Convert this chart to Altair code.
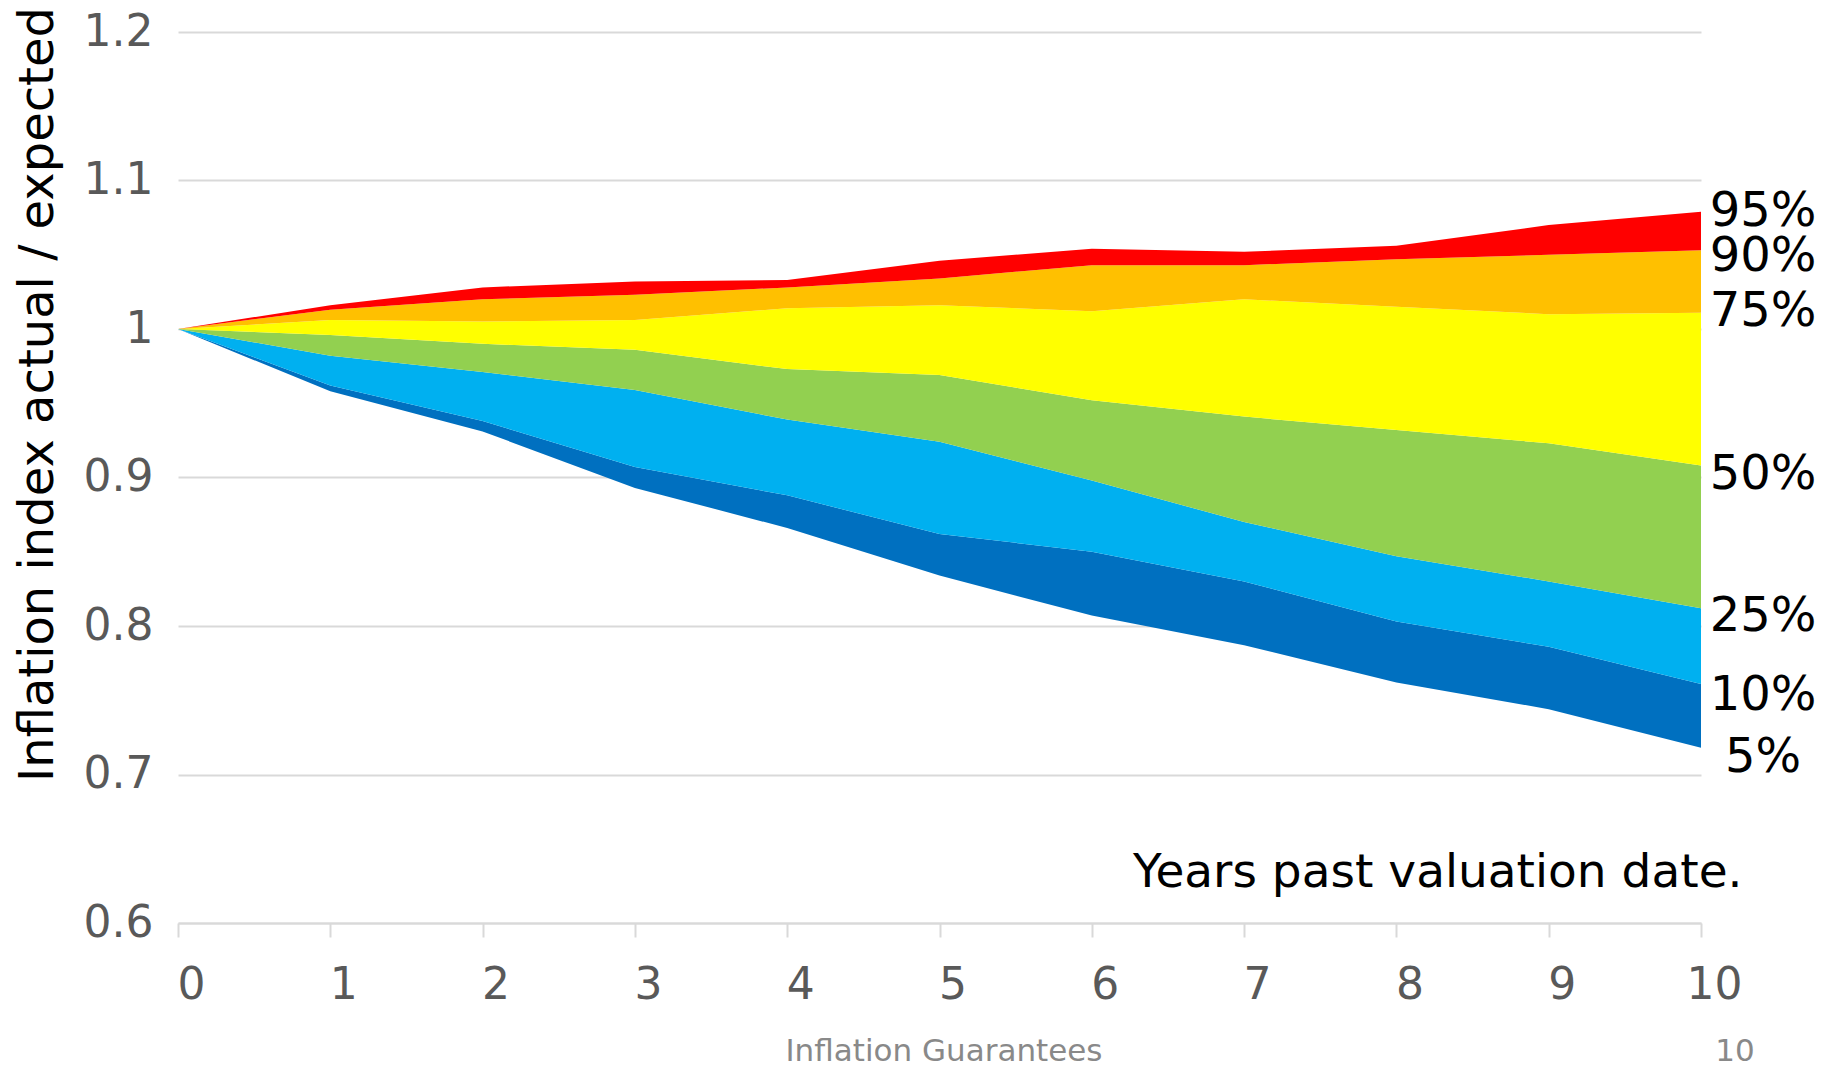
import altair as alt
import pandas as pd

# ---- data ----
years = [0, 1, 2, 3, 4, 5, 6, 7, 8, 9, 10]
p5  = [1.000, 0.958, 0.931, 0.893, 0.866, 0.834, 0.807, 0.787, 0.762, 0.744, 0.718]
p10 = [1.000, 0.962, 0.938, 0.907, 0.888, 0.862, 0.850, 0.830, 0.803, 0.786, 0.761]
p25 = [1.000, 0.982, 0.971, 0.959, 0.939, 0.924, 0.898, 0.870, 0.847, 0.830, 0.812]
p50 = [1.000, 0.996, 0.990, 0.986, 0.973, 0.969, 0.952, 0.941, 0.932, 0.923, 0.908]
p75 = [1.000, 1.006, 1.005, 1.006, 1.014, 1.016, 1.012, 1.020, 1.015, 1.010, 1.011]
p90 = [1.000, 1.013, 1.020, 1.023, 1.028, 1.034, 1.043, 1.043, 1.047, 1.050, 1.053]
p95 = [1.000, 1.016, 1.028, 1.032, 1.033, 1.046, 1.054, 1.052, 1.056, 1.070, 1.079]

band_names = ["5-10%", "10-25%", "25-50%", "50-75%", "75-90%", "90-95%"]
band_colors = ["#0070C0", "#00B0F0", "#92D050", "#FFFF00", "#FFC000", "#FF0000"]

pct_labels = ["95%", "90%", "75%", "50%", "25%", "10%", "5%"]
pct_label_y = [1.0806, 1.0503, 1.0133, 0.9036, 0.8081, 0.7552, 0.7129]

y_ticks = [0.6, 0.7, 0.8, 0.9, 1.0, 1.1, 1.2]
footer_text = ["Inflation Guarantees"]
page_text = ["10"]

FONT = "DejaVu Sans"

# ---- build tables ----
bounds = [p5, p10, p25, p50, p75, p90, p95]
rows = []
for i, name in enumerate(band_names):
    lo, hi = bounds[i], bounds[i + 1]
    for j, yr in enumerate(years):
        rows.append({"band": name, "order": i, "year": yr, "lower": lo[j], "upper": hi[j]})
df = pd.DataFrame(rows)

df_lab = pd.DataFrame({"label": pct_labels, "pos": pct_label_y, "year": [years[-1]] * len(pct_labels)})

x_axis = alt.Axis(
    values=years, title="Years past valuation date.",
    labelFont=FONT, labelFontSize=44, labelColor="#595959",
    labelOffset=13, labelPadding=61, labelBaseline="alphabetic", labelAlign="center",
    labelFlush=False, labelOverlap=False,
    tickSize=14, tickColor="#d9d9d9", tickWidth=2,
    domainColor="#d9d9d9", domainWidth=2, grid=False,
    titleFont=FONT, titleFontSize=47, titleColor="black", titleFontWeight="normal",
    titleX=1564, titleY=-37, titleAlign="right", titleBaseline="alphabetic",
)
y_axis = alt.Axis(
    values=y_ticks, title="Inflation index actual / expected",
    labelExpr="datum.value == 1 ? '1' : format(datum.value, '.1f')",
    labelFont=FONT, labelFontSize=44, labelColor="#595959", labelPadding=25,
    labelFlush=False, labelOverlap=False,
    ticks=False, domain=False, grid=True, gridColor="#d9d9d9", gridWidth=2,
    titleFont=FONT, titleFontSize=48, titleColor="black", titleFontWeight="normal",
    titleAngle=270, titleX=-126, titleY=362, titleAlign="center", titleBaseline="alphabetic",
)
x_scale = alt.Scale(domain=[0, 10], nice=False)
y_scale = alt.Scale(domain=[0.6, 1.2], nice=False, zero=False)

areas = alt.Chart(df).mark_area(interpolate="linear").encode(
    x=alt.X("year:Q", scale=x_scale, axis=x_axis),
    y=alt.Y("lower:Q", scale=y_scale, axis=y_axis),
    y2="upper:Q",
    color=alt.Color("band:N", scale=alt.Scale(domain=band_names, range=band_colors), legend=None),
    order="order:Q",
)

labels = alt.Chart(df_lab).mark_text(
    align="center", baseline="middle", dx=62, dy=3, fontSize=48, font=FONT, color="black"
).encode(
    x=alt.X("year:Q", scale=x_scale, axis=x_axis),
    y=alt.Y("pos:Q", scale=y_scale, axis=y_axis),
    text="label:N",
)

footer = alt.Chart(pd.DataFrame({"t": footer_text})).mark_text(
    align="center", baseline="alphabetic", fontSize=31, font=FONT, color="#898989"
).encode(x=alt.value(766), y=alt.value(1029), text="t:N")

page = alt.Chart(pd.DataFrame({"t": page_text})).mark_text(
    align="center", baseline="alphabetic", fontSize=31, font=FONT, color="#898989"
).encode(x=alt.value(1557), y=alt.value(1029), text="t:N")

chart = alt.layer(areas, labels, footer, page).properties(
    width=1523, height=891,
    autosize=alt.AutoSizeParams(type="none"),
    padding={"left": 178, "top": 32, "right": 136, "bottom": 144},
    background="white",
).configure_view(stroke=None)

chart.save("out.html", embed_options={"renderer": "svg", "actions": False})
